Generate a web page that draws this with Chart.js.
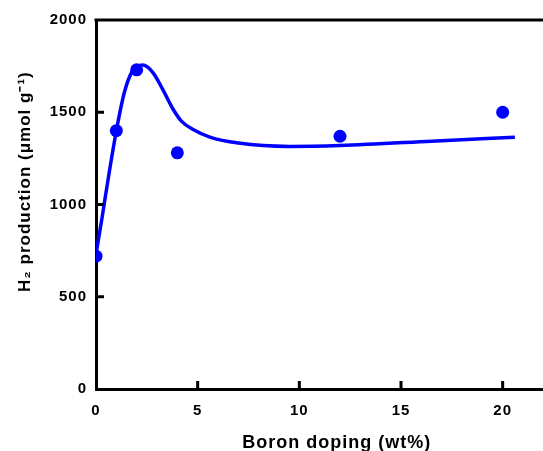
<!DOCTYPE html>
<html>
<head>
<meta charset="utf-8">
<script src="https://cdn.jsdelivr.net/npm/chart.js"></script>
<style>
  html, body { margin: 0; padding: 0; background: #fff; overflow: hidden; }
  #wrap { width: 560px; height: 451px; }
</style>
</head>
<body>
<div id="wrap"><canvas id="h2Chart"></canvas></div>
<script>
// measured samples
const dopingWt = [0, 1, 2, 4, 12, 20];
const h2Production = [720, 1400, 1730, 1280, 1370, 1500];

// fitted trend line
const fitX = [0, 0.3, 0.6, 1, 1.4, 1.8, 2.3, 2.8, 3.3, 3.8, 4.2, 4.8, 5.6, 7, 9.5, 12, 16.5, 20.6];
const fitY = [730, 930, 1140, 1400, 1610, 1725, 1756, 1715, 1620, 1515, 1452, 1405, 1365, 1333, 1315, 1320, 1343, 1365];

const xTickValues = [0, 5, 10, 15, 20];
const yTickValues = [0, 500, 1000, 1500, 2000];

const BLUE = '#0000ff';

Chart.defaults.color = '#000';
Chart.defaults.font.family = '"Liberation Sans", Arial, sans-serif';
Chart.defaults.font.weight = 'bold';

// canvas resets its state on resize, so reapply spacing before layout and draw
const spacing = {
    id: 'spacing',
    beforeUpdate(chart) { chart.ctx.letterSpacing = '1px'; },
    beforeDraw(chart) { chart.ctx.letterSpacing = '1px'; }
};

// inward tick marks plus the top frame line
const frame = {
    id: 'frame',
    afterDraw(chart) {
        const { ctx, chartArea: a, scales } = chart;
        ctx.save();
        ctx.strokeStyle = '#000';
        ctx.lineWidth = 3;
        ctx.beginPath();
        ctx.moveTo(a.left - 1.5, a.top);
        ctx.lineTo(a.right, a.top);
        scales.y.ticks.forEach(t => {
            const py = scales.y.getPixelForValue(t.value);
            if (t.value === 0) return;
            ctx.moveTo(a.left, py);
            ctx.lineTo(a.left + 8, py);
        });
        scales.x.ticks.forEach(t => {
            const px = scales.x.getPixelForValue(t.value);
            if (t.value === 0) return;
            ctx.moveTo(px, a.bottom);
            ctx.lineTo(px, a.bottom - 8);
        });
        ctx.stroke();
        ctx.restore();
    }
};

new Chart(document.getElementById('h2Chart'), {
    type: 'scatter',
    data: {
        datasets: [{
            label: 'fit',
            data: fitX.map((x, i) => ({ x: x, y: fitY[i] })),
            showLine: true,
            borderColor: BLUE,
            borderWidth: 3.5,
            pointRadius: 0,
            cubicInterpolationMode: 'monotone',
            order: 2
        }, {
            label: 'H2',
            data: dopingWt.map((x, i) => ({ x: x, y: h2Production[i] })),
            backgroundColor: BLUE,
            borderColor: BLUE,
            pointRadius: 6.5,
            borderWidth: 0,
            order: 1
        }]
    },
    options: {
        responsive: true,
        maintainAspectRatio: false,
        animation: false,
        layout: { padding: { top: 20, right: 0, left: 0, bottom: 0 } },
        plugins: {
            legend: { display: false },
            tooltip: { enabled: false }
        },
        scales: {
            x: {
                type: 'linear',
                min: 0,
                max: 22.5,
                afterBuildTicks: s => { s.ticks = xTickValues.map(v => ({ value: v })); },
                afterFit: s => { s.height = 62; },
                grid: { display: false, drawTicks: false },
                border: { display: true, color: '#000', width: 3 },
                ticks: { font: { size: 15 }, padding: 13, maxRotation: 0, callback: v => String(v) },
                title: {
                    display: true,
                    text: '    Boron doping (wt%)',
                    font: { size: 18, lineHeight: 0.9 },
                    padding: { top: 0, bottom: 0 }
                }
            },
            y: {
                min: 0,
                max: 2000,
                afterBuildTicks: s => { s.ticks = yTickValues.map(v => ({ value: v })); },
                afterFit: s => { s.width = 96; },
                grid: { display: false, drawTicks: false },
                border: { display: true, color: '#000', width: 3 },
                ticks: { font: { size: 15 }, padding: 9, callback: v => String(v) },
                title: {
                    display: true,
                    text: '        H\u2082 production (\u03bcmol g\u207b\u00b9)',
                    font: { size: 17 },
                    padding: { top: 15, bottom: 0 }
                }
            }
        }
    },
    plugins: [spacing, frame]
});
</script>
</body>
</html>
